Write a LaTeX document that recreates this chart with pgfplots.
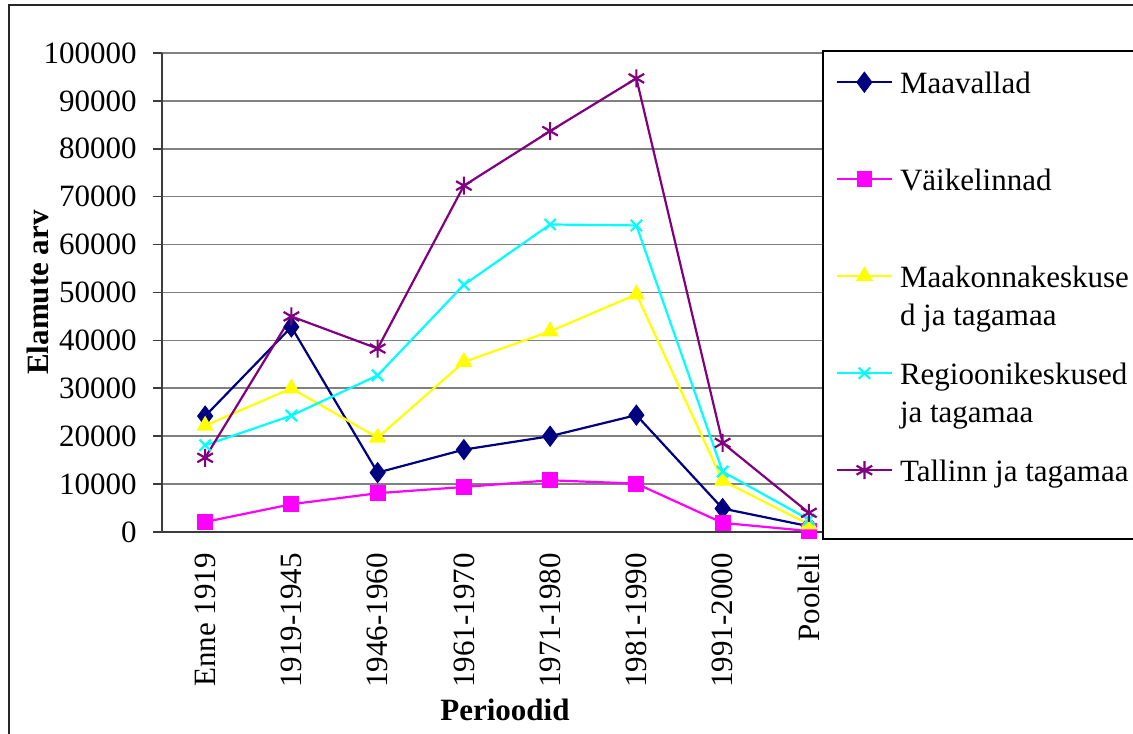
\documentclass[border=0pt]{standalone}
\usepackage{fontspec}
\setmainfont{Liberation Serif}
\usepackage{pgfplots}
\pgfplotsset{compat=1.18}
\definecolor{cMaa}{RGB}{0,0,128}
\definecolor{cVai}{RGB}{255,0,255}
\definecolor{cMk}{RGB}{255,255,0}
\definecolor{cReg}{RGB}{0,255,255}
\definecolor{cTal}{RGB}{128,0,128}
\definecolor{gridgray}{RGB}{128,128,128}
\definecolor{axgray}{RGB}{60,60,60}
\newcommand{\LS}{\rule[-27.75pt]{0pt}{48.5pt}}
\begin{document}
\begin{tikzpicture}[font=\fontsize{15.5}{18.6}\selectfont]
\useasboundingbox (0,0) rectangle (566.5pt,366.5pt);
\draw[line width=0.8pt, black!85] (4.5pt,-10pt) rectangle (600pt,364pt);
\begin{axis}[
  at={(81pt,100.5pt)}, anchor=south west,
  scale only axis, width=345pt, height=239.5pt,
  xmin=-0.5, xmax=7.5, ymin=0, ymax=100000,
  axis lines=left, axis line style={-, line width=0.8pt, axgray},
  xtick={0,...,7},
  xticklabels={Enne 1919,1919-1945,1946-1960,1961-1970,1971-1980,1981-1990,1991-2000,Pooleli},
  minor xtick={-0.5,0.5,...,7.5},
  xtick style={draw=none},
  minor tick length=4.5pt,
  minor x tick style={line width=0.8pt, axgray},
  ytick={0,10000,20000,30000,40000,50000,60000,70000,80000,90000,100000},
  yticklabels={0,10000,20000,30000,40000,50000,60000,70000,80000,90000,100000},
  ytick style={line width=0.8pt, axgray},
  major tick length=4.5pt,
  tick align=outside,
  ymajorgrids, grid style={line width=0.8pt, gridgray},
  scaled y ticks=false,
  yticklabel style={anchor=east, inner sep=0pt, xshift=-8pt},
  xticklabel style={rotate=90, anchor=east, inner sep=0pt, xshift=-6pt},
  xlabel={\bfseries Perioodid},
  ylabel={\bfseries Elamute arv},
  every axis x label/.style={at={(axis description cs:0.497,-0.372)}, anchor=center},
  every axis y label/.style={at={(axis description cs:-0.1797,0.5)}, rotate=90, anchor=center},
  clip=false,
  legend style={at={(0.95652,1.00626)}, anchor=north west, draw=black, line width=0.8pt,
    fill=white, inner xsep=6.5pt, inner ysep=0.75pt, row sep=0pt, column sep=3.5pt,
    cells={anchor=base west}, nodes={inner sep=0pt, text depth=}},
  legend image code/.code={\draw[mark repeat=2,mark phase=2] plot coordinates {(0pt,5.8pt)(13.75pt,5.8pt)(27.5pt,5.8pt)};},
  every axis plot/.append style={line width=1.1pt},
]
\addplot[color=cMaa, mark=diamond*, mark size=5pt, mark options={fill=cMaa, line width=0.5pt}] coordinates {
 (0,24200) (1,42800) (2,12400) (3,17200) (4,20000) (5,24400) (6,4900) (7,1200)};
\addlegendentry{\LS\parbox[t]{120pt}{Maavallad}}
\addplot[color=cVai, mark=square*, mark size=3.7pt, mark options={fill=cVai, line width=0.5pt}] coordinates {
 (0,2100) (1,5800) (2,8100) (3,9400) (4,10800) (5,10100) (6,1900) (7,200)};
\addlegendentry{\LS\parbox[t]{120pt}{Väikelinnad}}
\addplot[color=cMk, mark=triangle*, mark size=4.5pt, mark options={fill=cMk, line width=0.5pt}] coordinates {
 (0,22200) (1,30000) (2,19700) (3,35500) (4,41900) (5,49600) (6,10700) (7,1600)};
\addlegendentry{\LS\parbox[t]{120pt}{\raggedright Maakonnakeskuse\\d ja tagamaa}}
\addplot[color=cReg, mark=x, mark size=4pt, mark options={line width=1.1pt}] coordinates {
 (0,18100) (1,24300) (2,32700) (3,51600) (4,64200) (5,64000) (6,12600) (7,2600)};
\addlegendentry{\LS\parbox[t]{120pt}{\raggedright Regioonikeskused\\ja tagamaa}}
\addplot[color=cTal, mark=asterisk, mark size=4.5pt, mark options={line width=1.1pt}] coordinates {
 (0,15500) (1,45000) (2,38300) (3,72300) (4,83700) (5,94700) (6,18600) (7,4000)};
\addlegendentry{\LS\parbox[t]{120pt}{Tallinn ja tagamaa}}
\end{axis}
\end{tikzpicture}
\end{document}
